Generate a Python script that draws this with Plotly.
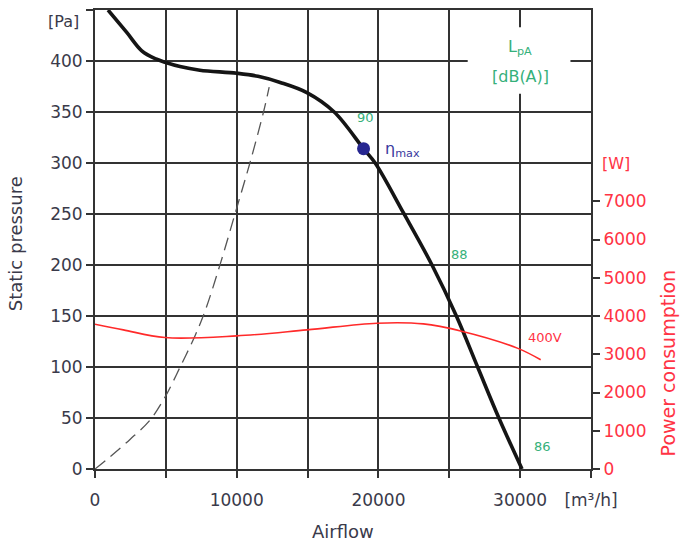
import plotly.graph_objects as go

# ---- data ----
curve_flow = [920, 2240, 3300, 4300, 5000, 6000, 7400, 10000, 11500, 13070, 14950, 16880, 18950, 19770, 21770, 23780, 25500, 27000, 28500, 30130]
curve_pressure = [450, 428, 410, 402, 398.5, 394.5, 391, 388, 385, 379, 369, 350, 314, 300, 251, 200, 150, 100, 50, 0]

system_flow = [0, 1060, 2470, 3880, 4940, 6000, 7060, 7770, 8830, 9930, 10950, 11890, 12290]
system_pressure = [0, 12, 29, 48, 70.5, 99.8, 130.7, 155, 200.6, 252.5, 301, 350, 374.4]

power_flow = [0, 2000, 4940, 10000, 14950, 19900, 23170, 25800, 29800, 31450]
power_w = [3785, 3637, 3436, 3480, 3637, 3811, 3793, 3610, 3160, 2855]

eta_flow = [18950]
eta_pressure = [314]

x_ticks = [0, 10000, 20000, 30000, 35000]
x_ticktext = ["0", "10000", "20000", "30000", "[m\u00b3/h]"]
y_ticks = [0, 50, 100, 150, 200, 250, 300, 350, 400]
y2_ticks = [0, 1000, 2000, 3000, 4000, 5000, 6000, 7000]

noise_labels = ["90", "88", "86"]
noise_flow = [19070, 25700, 31600]
noise_pressure = [345, 210.5, 21.7]

FONT = "DejaVu Sans"
DARK = "#3a3a4a"
GRID = "#333333"
RED = "#ff3344"
GREEN = "#35b07a"

fig = go.Figure()

fig.add_trace(go.Scatter(x=system_flow, y=system_pressure, mode="lines",
                         line=dict(color="#555555", width=1.3, dash="13px,7px", shape="spline"),
                         showlegend=False, hoverinfo="skip"))
fig.add_trace(go.Scatter(x=power_flow, y=power_w, mode="lines", yaxis="y2",
                         line=dict(color="#ff2a2a", width=1.6, shape="spline"),
                         showlegend=False, hoverinfo="skip"))
fig.add_trace(go.Scatter(x=curve_flow, y=curve_pressure, mode="lines",
                         line=dict(color="#151515", width=3.6, shape="spline"),
                         showlegend=False, hoverinfo="skip"))
fig.add_trace(go.Scatter(x=eta_flow, y=eta_pressure, mode="markers",
                         marker=dict(color="#262690", size=13),
                         showlegend=False, hoverinfo="skip"))

# white box behind the LpA label (hides grid lines)
fig.add_shape(type="rect", xref="x", yref="y", x0=26300, x1=33550, y0=368, y1=433,
              fillcolor="white", line=dict(width=0), layer="above")

for t, xv, yv in zip(noise_labels, noise_flow, noise_pressure):
    fig.add_annotation(x=xv, y=yv, text=t, showarrow=False,
                       font=dict(family=FONT, size=13, color=GREEN))

fig.add_annotation(x=20300, y=313, text="\u03b7<sub>max</sub>", showarrow=False, xanchor="left",
                   font=dict(family=FONT, size=16, color="#3a3a9e"))
fig.add_annotation(x=31740, y=3430, yref="y2", text="400V", showarrow=False,
                   font=dict(family=FONT, size=13, color=RED))
fig.add_annotation(x=30000, y=413, text="L<sub>pA</sub>", showarrow=False,
                   font=dict(family=FONT, size=16, color=GREEN))
fig.add_annotation(x=30000, y=385, text="[dB(A)]", showarrow=False,
                   font=dict(family=FONT, size=16, color=GREEN))

# axis titles / units
fig.add_annotation(x=-0.161, y=0.49, xref="paper", yref="paper", text="Static pressure",
                   xanchor="center", yanchor="middle",
                   textangle=-90, showarrow=False, font=dict(family=FONT, size=18, color=DARK))
fig.add_annotation(x=0.5, y=-0.137, xref="paper", yref="paper", text="Airflow",
                   xanchor="center", yanchor="middle",
                   showarrow=False, font=dict(family=FONT, size=18, color=DARK))
fig.add_annotation(x=1.155, y=0.232, xref="paper", yref="paper", text="Power consumption",
                   xanchor="center", yanchor="middle",
                   textangle=-90, showarrow=False, font=dict(family=FONT, size=19, color=RED))
fig.add_annotation(x=1.018, y=8000, xref="paper", yref="y2", text="[W]", showarrow=False,
                   xanchor="left", yanchor="middle", font=dict(family=FONT, size=16, color=RED))
fig.add_annotation(x=-0.028, y=450, xref="paper", yref="y", text="[Pa]", showarrow=False,
                   xanchor="right", yanchor="top", font=dict(family=FONT, size=16, color=DARK))

axis_common = dict(showline=True, linecolor=GRID, linewidth=2,
                   ticks="outside", ticklen=7, tickcolor=GRID, tickwidth=1.6,
                   zeroline=False)

fig.update_layout(
    width=680, height=549,
    margin=dict(l=95, r=89, t=8, b=80),
    paper_bgcolor="white", plot_bgcolor="white",
    font=dict(family=FONT),
    xaxis=dict(range=[0, 35000], tickvals=x_ticks, ticktext=x_ticktext,
               showgrid=True, gridcolor=GRID, gridwidth=1.6, mirror=True,
               minor=dict(tick0=0, dtick=5000, ticks="outside", ticklen=7, tickcolor=GRID,
                          tickwidth=1.6, showgrid=True, gridcolor=GRID, gridwidth=1.6),
               ticklabelstandoff=8,
               tickfont=dict(family=FONT, size=17, color=DARK), **axis_common),
    yaxis=dict(range=[0, 450], tickvals=y_ticks,
               showgrid=True, gridcolor=GRID, gridwidth=1.6, mirror=True,
               minor=dict(tick0=0, dtick=50, ticks="outside", ticklen=7, tickcolor=GRID,
                          tickwidth=1.6, showgrid=True, gridcolor=GRID, gridwidth=1.6),
               tickfont=dict(family=FONT, size=17, color=DARK), **axis_common),
    yaxis2=dict(range=[0, 12000], overlaying="y", side="right", tickvals=y2_ticks,
                showgrid=False,
                tickfont=dict(family=FONT, size=17, color=RED), **axis_common),
)

fig.write_html("out.html", post_script="document.body.style.margin='0px';",
               config={"displayModeBar": False})
